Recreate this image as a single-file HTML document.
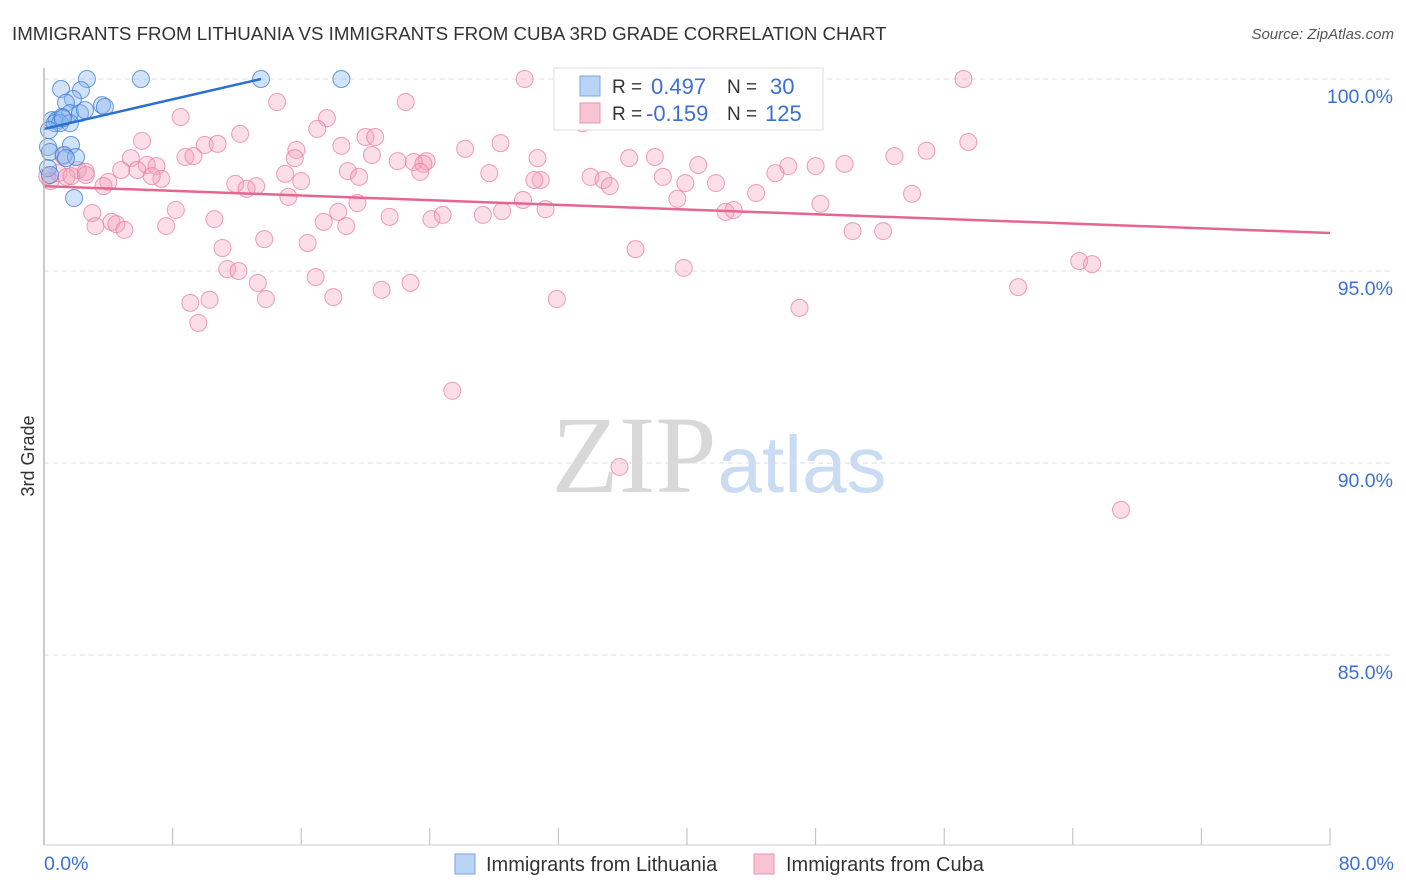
<!DOCTYPE html>
<html><head><meta charset="utf-8">
<style>
body{margin:0;background:#fff;font-family:"Liberation Sans",sans-serif;}
#wrap{position:relative;width:1406px;height:892px;overflow:hidden;}
</style></head>
<body>
<div id="wrap">
<svg id="svg" width="1406" height="892" xmlns="http://www.w3.org/2000/svg">
<text x="12" y="40" font-size="18.7" fill="#333">IMMIGRANTS FROM LITHUANIA VS IMMIGRANTS FROM CUBA 3RD GRADE CORRELATION CHART</text>
<text x="1394" y="39" font-size="15" fill="#555" font-style="italic" text-anchor="end">Source: ZipAtlas.com</text>
<text x="34" y="456" font-size="18" fill="#333" text-anchor="middle" transform="rotate(-90 34 456)">3rd Grade</text>
<g>
<text x="634" y="492" font-size="110" fill="#d8d8d8" font-family="Liberation Serif,serif" text-anchor="middle">ZIP</text>
<text x="802" y="492" font-size="80" fill="#c9dcf3" text-anchor="middle">atlas</text>
</g>
<g id="grid"></g>
<g id="pts"></g>
<g id="trend"></g>
<line x1="44" y1="68" x2="44" y2="845" stroke="#bbb" stroke-width="1.5"/>
<line x1="44" y1="845" x2="1330" y2="845" stroke="#ccc" stroke-width="1"/>
<text x="44" y="870" font-size="19.5" fill="#3b6fd4">0.0%</text>
<text x="1394" y="870" font-size="19.5" fill="#3b6fd4" text-anchor="end">80.0%</text>
<g>
<rect x="554" y="68" width="269" height="62" fill="#fff" stroke="#ddd"/>
<rect x="580" y="76" width="20" height="20" fill="#b8d3f3" stroke="#7aa6e0"/>
<text x="612" y="93" font-size="19" fill="#333">R = </text><text x="651" y="94" font-size="22" fill="#3b6fd4">0.497</text>
<text x="727" y="93" font-size="19" fill="#333">N = </text><text x="770" y="94" font-size="22" fill="#3b6fd4">30</text>
<rect x="580" y="103" width="20" height="20" fill="#f8c4d4" stroke="#eb94ae"/>
<text x="612" y="120" font-size="19" fill="#333">R = </text><text x="646" y="121" font-size="22" fill="#3b6fd4">-0.159</text>
<text x="727" y="120" font-size="19" fill="#333">N = </text><text x="765" y="121" font-size="22" fill="#3b6fd4">125</text>
</g>
<g>
<rect x="455" y="854" width="20" height="20" fill="#b8d3f3" stroke="#7aa6e0"/>
<text x="486" y="871" font-size="20" fill="#333">Immigrants from Lithuania</text>
<rect x="754" y="854" width="20" height="20" fill="#f8c4d4" stroke="#eb94ae"/>
<text x="786" y="871" font-size="20" fill="#333">Immigrants from Cuba</text>
</g>
</svg>
</div>
<script>
const yTicks=[100,95,90,85];
const yTickLabels=["100.0%","95.0%","90.0%","85.0%"];
const xTicks=[0,8,16,24,32,40,48,56,64,72,80];
const blueX=[2.67,6.03,13.5,18.5,1.06,2.30,1.80,1.37,3.61,3.79,1.62,2.24,2.55,0.50,0.81,1.12,0.68,1.0,0.31,1.62,1.18,0.25,1.68,0.37,1.24,1.99,1.37,0.25,1.87,0.37];
const blueY=[100,100,100,100,99.74,99.71,99.48,99.38,99.32,99.27,99.11,99.11,99.19,98.93,98.93,99.01,98.85,98.85,98.67,98.85,98.98,98.23,98.28,98.10,98.02,97.97,97.94,97.68,96.90,97.50];
const pinkX=[29.9,57.2,14.5,22.5,8.5,17.6,33.5,17.0,12.2,6.1,20.0,20.6,28.4,57.5,10.0,10.8,18.5,15.7,26.2,54.9,8.8,9.3,20.4,15.6,5.4,30.7,36.4,38.0,52.9,1.2,23.8,23.0,22.0,23.6,18.9,40.7,46.3,48.0,49.8,6.4,7.0,4.8,2.1,5.8,2.6,0.9,1.4,1.7,0.2,0.4,7.3,6.7,2.6,4.0,3.7,11.9,13.2,12.6,16.0,15.0,27.7,30.9,34.0,34.8,35.2,38.5,39.9,41.8,45.5,19.6,19.5,23.4,30.5,15.2,29.8,39.4,44.3,54.0,3.0,8.2,3.2,4.2,4.5,5.0,7.6,10.6,18.3,18.8,17.4,21.5,24.1,24.8,27.3,28.5,31.2,42.4,42.9,48.3,50.3,52.2,13.7,16.4,11.1,36.8,11.4,12.1,39.8,64.4,65.2,16.9,13.3,21.0,22.8,60.6,9.1,10.3,13.8,18.0,31.9,47.0,9.6,25.4,35.8,67.0];
const pinkY=[100,100,99.40,99.40,99.01,98.98,98.85,98.70,98.57,98.39,98.49,98.49,98.33,98.36,98.28,98.31,98.26,98.15,98.18,98.13,97.97,97.99,98.02,97.94,97.94,97.94,97.94,97.97,97.99,97.99,97.86,97.84,97.86,97.79,97.60,97.76,97.73,97.73,97.79,97.76,97.73,97.63,97.63,97.63,97.58,97.55,97.45,97.47,97.47,97.34,97.40,97.47,97.50,97.32,97.21,97.27,97.21,97.14,97.34,97.53,97.55,97.37,97.45,97.37,97.21,97.45,97.29,97.29,97.55,97.45,96.77,97.58,97.37,96.93,96.85,96.88,97.03,97.01,96.51,96.59,96.17,96.28,96.22,96.07,96.17,96.35,96.54,96.17,96.28,96.41,96.35,96.46,96.46,96.56,96.61,96.54,96.59,96.75,96.04,96.04,95.83,95.73,95.60,95.57,95.05,95.00,95.08,95.26,95.18,94.84,94.69,94.51,94.69,94.58,94.17,94.25,94.27,94.32,94.27,94.04,93.65,91.88,89.90,88.78];
const blueTrendX=[0,13.5];
const blueTrendY=[98.70,100];
const pinkTrendX=[0,80];
const pinkTrendY=[97.21,95.99];

const NS="http://www.w3.org/2000/svg";
const sx=v=>44+v/80*1286;
const sy=v=>79+(100-v)/5*192;
function mk(tag,attrs,parent){const e=document.createElementNS(NS,tag);for(const k in attrs)e.setAttribute(k,attrs[k]);parent.appendChild(e);return e;}
const grid=document.getElementById('grid');
yTicks.forEach((t,i)=>{
  const l=mk('line',{x1:44,x2:1394,y1:sy(t),y2:sy(t),stroke:'#ddd','stroke-dasharray':'5,4'},grid);
  
  
  const tx=mk('text',{x:1393,y:sy(t)+24,'font-size':19.5,fill:'#3b6fd4','text-anchor':'end'},grid);
  tx.textContent=yTickLabels[i];
  
  
});
xTicks.forEach(t=>{
  const l=mk('line',{x1:sx(t),x2:sx(t),y1:828,y2:845,stroke:'#bbb'},grid);
  
  
});
const pts=document.getElementById('pts');
pinkX.forEach((x,i)=>{
  const c=mk('circle',{cx:sx(x),cy:sy(pinkY[i]),r:8.5,fill:'rgba(244,160,186,0.35)',stroke:'rgba(232,120,155,0.7)','stroke-width':1},pts);
  
  
});
blueX.forEach((x,i)=>{
  const c=mk('circle',{cx:sx(x),cy:sy(blueY[i]),r:8.5,fill:'rgba(140,185,240,0.4)',stroke:'rgba(60,120,210,0.75)','stroke-width':1},pts);
  
  
});
const tr=document.getElementById('trend');
const b=mk('line',{x1:sx(blueTrendX[0]),y1:sy(blueTrendY[0]),x2:sx(blueTrendX[1]),y2:sy(blueTrendY[1]),stroke:'#2a6fd6','stroke-width':2.5},tr);


const p=mk('line',{x1:sx(pinkTrendX[0]),y1:sy(pinkTrendY[0]),x2:sx(pinkTrendX[1]),y2:sy(pinkTrendY[1]),stroke:'#e5668f','stroke-width':2.5},tr);


</script>
</body></html>
